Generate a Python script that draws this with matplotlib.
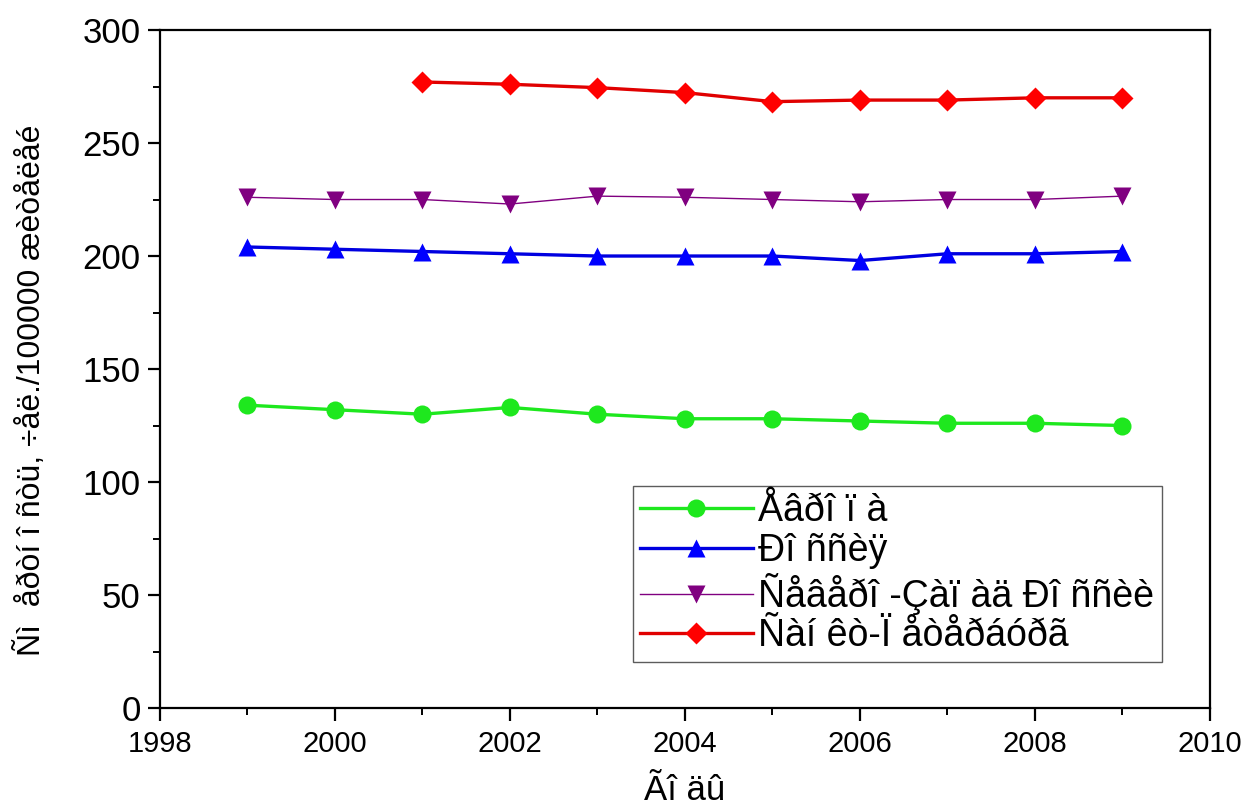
import matplotlib
matplotlib.use('Agg')
import matplotlib.pyplot as plt
from matplotlib.ticker import MultipleLocator

# values
years = [1999, 2000, 2001, 2002, 2003, 2004, 2005, 2006, 2007, 2008, 2009]
europe = [134, 132, 130, 133, 130, 128, 128, 127, 126, 126, 125]
russia = [204, 203, 202, 201, 200, 200, 200, 198, 201, 201, 202]
northwest = [226, 225, 225, 223, 226.5, 226, 225, 224, 225, 225, 226.5]
spb_years = [2001, 2002, 2003, 2004, 2005, 2006, 2007, 2008, 2009]
spb = [277, 276, 274.5, 272.3, 268.3, 269, 269, 270, 270]

labels = ['Åâðî ï à', 'Ðî ññèÿ', 'Ñåâåðî -Çàï àä Ðî ññèè', 'Ñàí êò-Ï åòåðáóðã']
xlabel = 'Ãî äû'
ylabel = 'Ñì  åðòí î ñòü, ÷åë./100000 æèòåëåé'

fam = ['Liberation Sans', 'DejaVu Sans']

fig = plt.figure(figsize=(12.51, 8.09), dpi=100)
ax = fig.add_axes([0.1279, 0.1248, 0.8393, 0.8381])

ax.plot(years, europe, color='#1EE81E', lw=2.4, marker='o', ms=13, mec='none', label=labels[0])
ax.plot(years, russia, color='#0000E0', lw=2.4, marker='^', ms=13, mec='none', mfc='#0000FF', label=labels[1])
ax.plot(years, northwest, color='#800080', lw=1.0, marker='v', ms=13, mec='none', label=labels[2])
ax.plot(spb_years, spb, color='#E00000', lw=2.4, marker='D', ms=11, mec='none', mfc='#FF0000', label=labels[3])

ax.set_xlim(1998, 2010)
ax.set_ylim(0, 300)
ax.xaxis.set_major_locator(MultipleLocator(2))
ax.xaxis.set_minor_locator(MultipleLocator(1))
ax.yaxis.set_major_locator(MultipleLocator(50))
ax.yaxis.set_minor_locator(MultipleLocator(25))

for s in ax.spines.values():
    s.set_linewidth(1.6)
ax.tick_params(which='major', direction='out', length=9, width=1.6)
ax.tick_params(which='minor', direction='out', length=5, width=1.4)
ax.tick_params(top=False, right=False, which='both')
ax.tick_params(axis='y', pad=5, labelsize=25)
ax.tick_params(axis='x', pad=7, labelsize=21)

for t in ax.get_yticklabels() + ax.get_xticklabels():
    t.set_family(fam)

ax.set_xlabel(xlabel, family=fam, fontsize=25)
ax.xaxis.set_label_coords(0.5, -0.097)
ax.set_ylabel(ylabel, family=fam, fontsize=23)
ax.yaxis.set_label_coords(-0.108, 0.469)

leg = ax.legend(loc='lower right', bbox_to_anchor=(0.954, 0.068),
                prop={'family': fam, 'size': 27}, frameon=True, fancybox=False,
                edgecolor='#333333', handlelength=3.0, handletextpad=0.15,
                labelspacing=0.1, borderpad=0.2, borderaxespad=0)
leg.get_frame().set_linewidth(1.0)

fig.savefig('out.png', dpi=100)
